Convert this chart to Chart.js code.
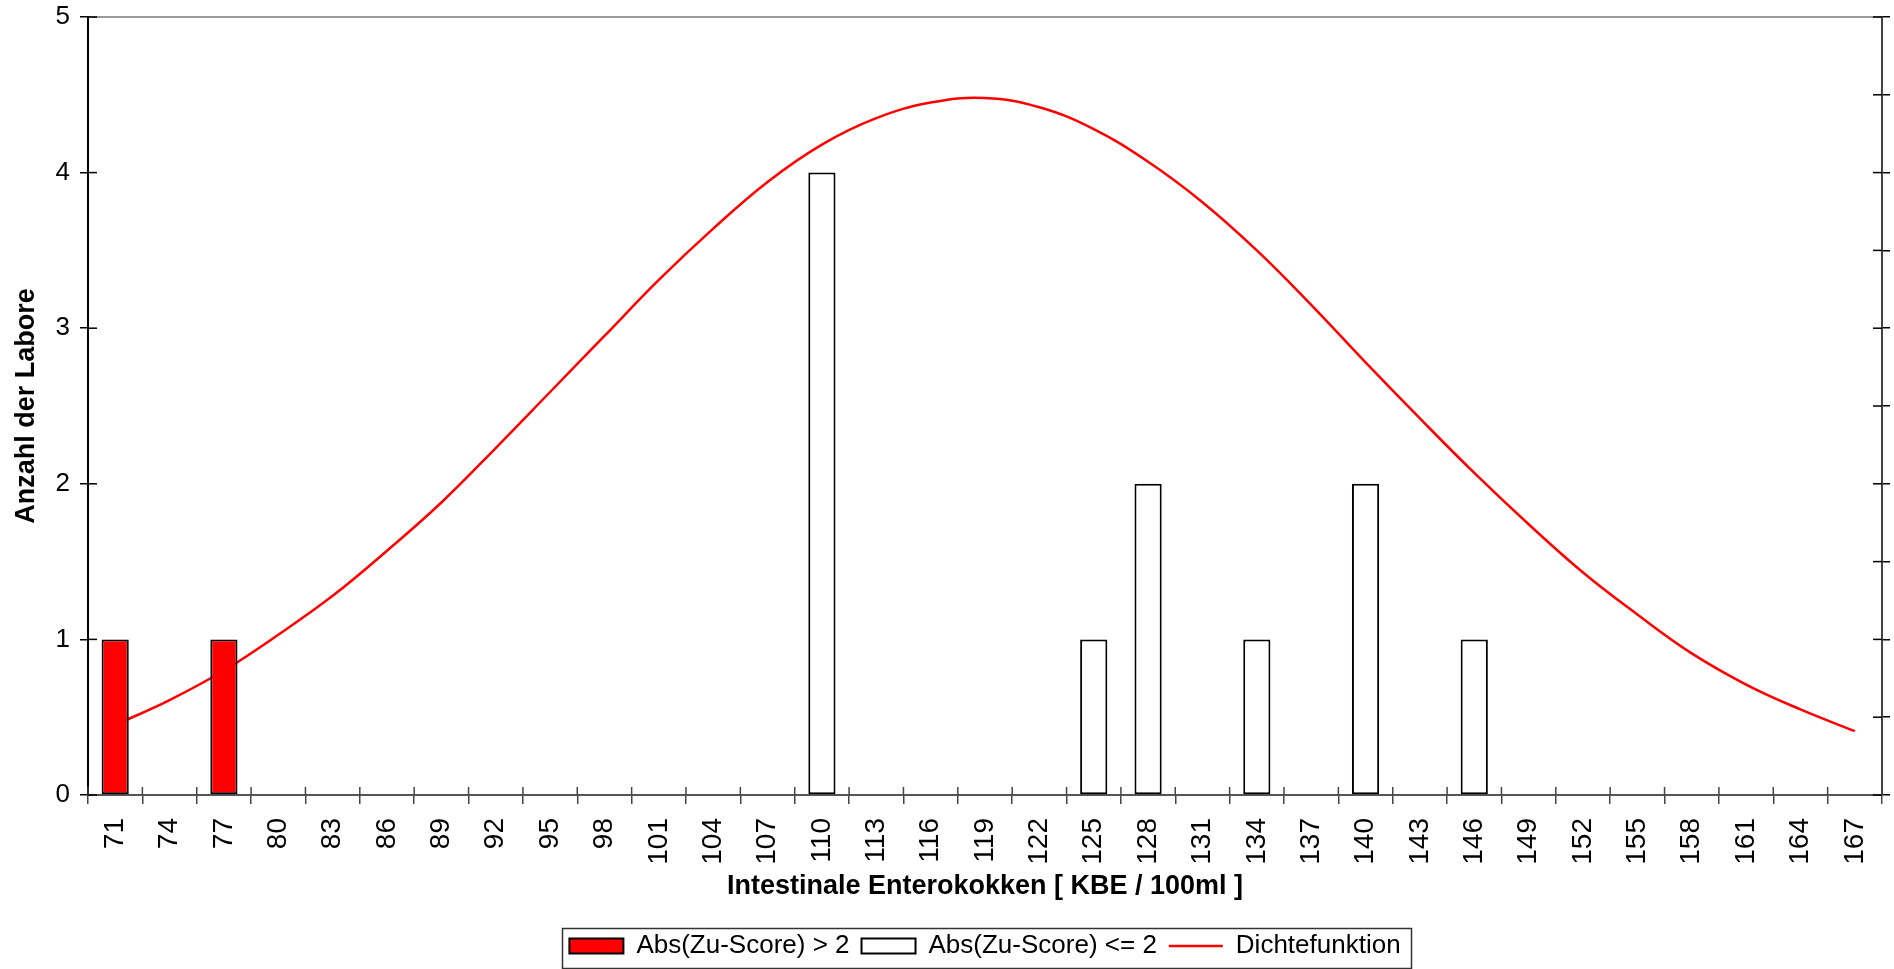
<!DOCTYPE html>
<html>
<head>
<meta charset="utf-8">
<script src="https://cdn.jsdelivr.net/npm/chart.js@4.4.1/dist/chart.umd.min.js"></script>
<style>
html,body{margin:0;padding:0;background:#fff;overflow:hidden}
#wrap{width:1894px;height:969px}
canvas{display:block}
</style>
</head>
<body>
<div id="wrap"><canvas id="c" width="1894" height="969"></canvas></div>
<script>
// ---- data ----
const categories = ['71','74','77','80','83','86','89','92','95','98','101','104','107','110','113','116','119','122','125','128','131','134','137','140','143','146','149','152','155','158','161','164','167'];

// Abs(Zu-Score) > 2
const outlierCounts = [1,null,1,null,null,null,null,null,null,null,null,null,null,null,null,null,null,null,null,null,null,null,null,null,null,null,null,null,null,null,null,null,null];

// Abs(Zu-Score) <= 2
const inRangeCounts = [null,null,null,null,null,null,null,null,null,null,null,null,null,4,null,null,null,null,1,2,null,1,null,2,null,1,null,null,null,null,null,null,null];

// Dichtefunktion (density curve values at each category)
const densityValues = [0.45,0.61,0.80,1.03,1.28,1.57,1.88,2.23,2.59,2.95,3.31,3.64,3.94,4.18,4.35,4.45,4.48,4.42,4.28,4.07,3.81,3.50,3.15,2.78,2.42,2.07,1.74,1.43,1.16,0.91,0.71,0.55,0.41];

const seriesLabels = ['Abs(Zu-Score) > 2', 'Abs(Zu-Score) <= 2', 'Dichtefunktion'];
const xTitle = 'Intestinale Enterokokken [ KBE / 100ml ]';
const yTitle = 'Anzahl der Labore';
const yMin = 0, yMax = 5, yStep = 1, yMinorStep = 0.5;

// ---- styling ----
const FAM = '"Liberation Sans", Arial, Helvetica, sans-serif';
const yTickFont = {family: FAM, size: 26, lineHeight: 0.5};
const xTickFont = {family: FAM, size: 28};
const legendFont = {family: FAM, size: 26};
const titleFont = {family: FAM, size: 27, weight: 'bold'};

const crossTicks = {
  id: 'crossTicks',
  afterDraw(chart) {
    const {ctx, chartArea: a, scales} = chart;
    ctx.save();
    ctx.lineWidth = 1.5;
    ctx.strokeStyle = '#000';
    const seg = (x1, y1, x2, y2) => { ctx.beginPath(); ctx.moveTo(x1, y1); ctx.lineTo(x2, y2); ctx.stroke(); };
    scales.y.ticks.forEach(t => {
      const py = scales.y.getPixelForValue(t.value);
      seg(a.left, py, a.left + 9, py);
    });
    scales.y2.ticks.forEach(t => {
      const py = scales.y2.getPixelForValue(t.value);
      seg(a.right - 9, py, a.right, py);
    });
    ctx.strokeStyle = '#444';
    for (let i = 0; i <= categories.length; i++) {
      const px = scales.x.getPixelForValue(i - 0.5);
      seg(px, a.bottom - 8, px, a.bottom);
    }
    // legend frame
    const hb = chart.legend && chart.legend.legendHitBoxes;
    if (hb && hb.length) {
      let l = Infinity, r = -Infinity, t = Infinity, b = -Infinity;
      hb.forEach(h => { l = Math.min(l, h.left); r = Math.max(r, h.left + h.width); t = Math.min(t, h.top); b = Math.max(b, h.top + h.height); });
      const cy = (t + b) / 2;
      ctx.strokeStyle = '#333';
      ctx.lineWidth = 1.5;
      ctx.strokeRect(Math.round(l - 7) + 0.5, Math.round(cy - 18.5) + 0.5, Math.round(r - l + 18), 40);
    }
    ctx.restore();
  }
};

new Chart(document.getElementById('c'), {
  data: {
    labels: categories,
    datasets: [
      {
        type: 'bar', label: seriesLabels[0], data: outlierCounts,
        backgroundColor: '#FF0000', borderColor: '#000', borderWidth: 2, borderSkipped: false,
        grouped: false, categoryPercentage: 1, barPercentage: 0.5, yAxisID: 'y'
      },
      {
        type: 'bar', label: seriesLabels[1], data: inRangeCounts,
        backgroundColor: '#FFFFFF', borderColor: '#000', borderWidth: 2, borderSkipped: false,
        grouped: false, categoryPercentage: 1, barPercentage: 0.5, yAxisID: 'y'
      },
      {
        type: 'line', label: seriesLabels[2], data: densityValues,
        borderColor: '#FF0000', backgroundColor: '#FF0000', borderWidth: 2.5,
        pointRadius: 0, pointHoverRadius: 0, fill: false,
        tension: 0.4, yAxisID: 'y'
      }
    ]
  },
  options: {
    responsive: false,
    animation: false,
    devicePixelRatio: 1,
    layout: {padding: {top: 17, left: 0, right: 0, bottom: 0}},
    scales: {
      x: {
        type: 'category', position: 'bottom', offset: true,
        grid: {display: true, drawOnChartArea: false, offset: true, tickLength: 9, color: '#444', lineWidth: 1.5},
        border: {display: true, color: '#555', width: 2},
        ticks: {font: xTickFont, color: '#000', minRotation: 90, maxRotation: 90, padding: 14, autoSkip: false},
        title: {display: true, text: xTitle, font: titleFont, color: '#000', padding: {top: 0, bottom: 18}},
        afterFit(s) { s.height = 126; s.paddingLeft = 0; s.paddingRight = 0; }
      },
      x2: {
        type: 'linear', position: 'top', min: 0, max: 1,
        ticks: {display: false},
        grid: {display: true, drawOnChartArea: false, drawTicks: false},
        border: {display: true, color: '#999', width: 2},
        afterFit(s) { s.height = 0; s.paddingLeft = 0; s.paddingRight = 0; }
      },
      y: {
        type: 'linear', position: 'left', min: yMin, max: yMax,
        ticks: {stepSize: yStep, font: yTickFont, color: '#000', padding: 10},
        grid: {display: true, drawOnChartArea: false, tickLength: 8, color: '#000', lineWidth: 1.5},
        border: {display: true, color: '#000', width: 2},
        title: {display: true, text: yTitle, font: titleFont, color: '#000', padding: {top: 10, bottom: 0}},
        afterFit(s) { s.width = 88; }
      },
      y2: {
        type: 'linear', position: 'right', min: yMin, max: yMax,
        ticks: {display: false, stepSize: yMinorStep},
        grid: {display: true, drawOnChartArea: false, tickLength: 8, color: '#000', lineWidth: 1.5},
        border: {display: true, color: '#444', width: 2},
        afterFit(s) { s.width = 12; }
      }
    },
    plugins: {
      tooltip: {enabled: false},
      legend: {
        display: true, position: 'bottom', fullSize: false,
        labels: {
          font: legendFont, color: '#000',
          usePointStyle: true, pointStyleWidth: 54, boxHeight: 15, padding: 12,
          generateLabels(chart) {
            return chart.data.datasets.map((ds, i) => ({
              text: ds.label,
              datasetIndex: i,
              hidden: false,
              fontColor: '#000',
              fillStyle: ds.type === 'line' ? 'rgba(0,0,0,0)' : ds.backgroundColor,
              strokeStyle: ds.borderColor,
              lineWidth: ds.borderWidth,
              pointStyle: ds.type === 'line' ? 'line' : 'rect',
              rotation: 0
            }));
          }
        }
      }
    }
  },
  plugins: [crossTicks]
});
</script>
</body>
</html>
